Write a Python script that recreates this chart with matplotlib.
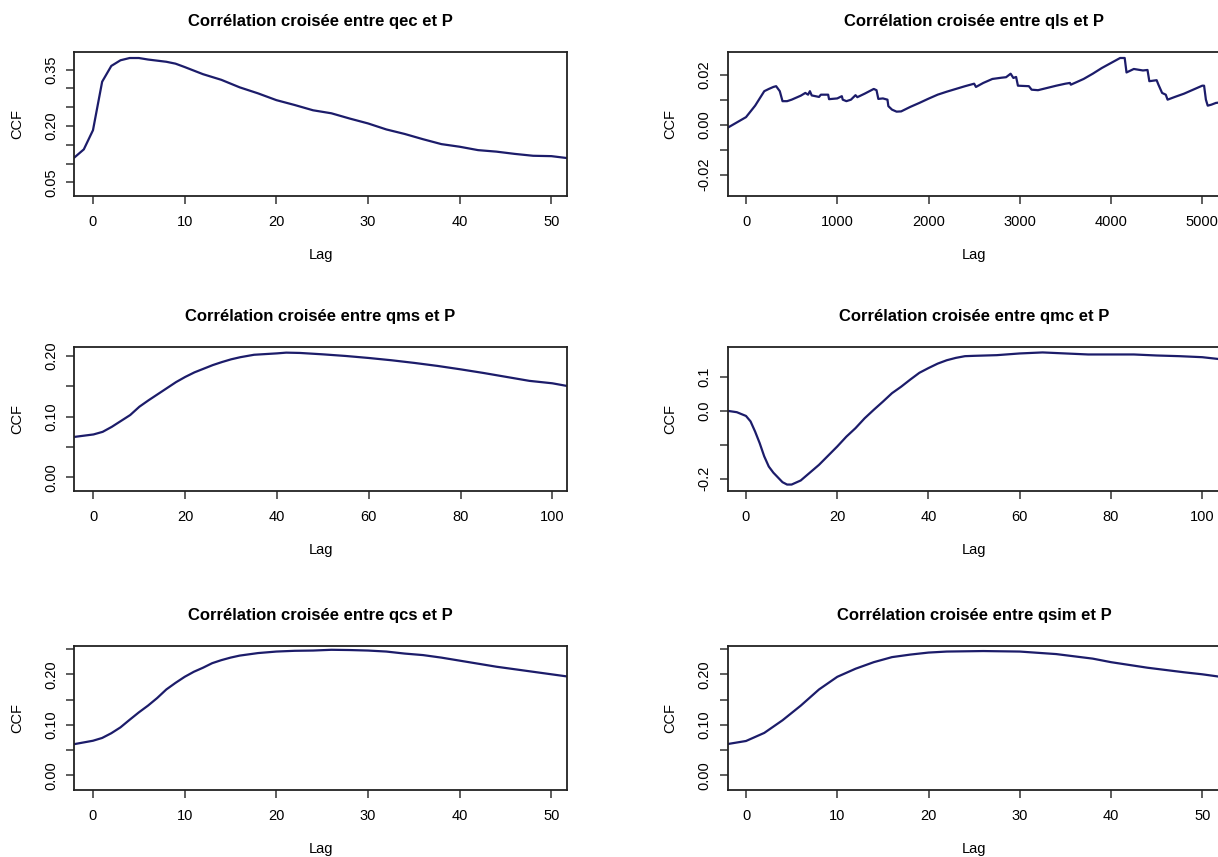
import matplotlib
matplotlib.use("Agg")
import matplotlib.pyplot as plt

plt.rcParams['font.family'] = ['Liberation Sans', 'DejaVu Sans']

# ---- data (lag, ccf) ----
qec_lag = [-2, -1, 0, 1, 2, 3, 4, 5, 6, 7, 8, 9, 10, 12, 14, 16, 18, 20, 22, 24, 26, 28,
           30, 32, 34, 36, 38, 40, 42, 44, 46, 48, 50, 52]
qec_ccf = [0.117, 0.138, 0.189, 0.318, 0.360, 0.375, 0.381, 0.381, 0.377, 0.374, 0.371,
           0.366, 0.357, 0.338, 0.323, 0.303, 0.287, 0.269, 0.256, 0.242, 0.234, 0.220,
           0.207, 0.191, 0.179, 0.165, 0.152, 0.145, 0.136, 0.132, 0.126, 0.121, 0.120, 0.114]

qls_lag = [-204, 0, 100, 200, 250, 300, 330, 370, 400, 450, 500, 600, 650, 680, 700, 720,
           800, 820, 900, 910, 1000, 1050, 1060, 1100, 1150, 1200, 1220, 1300, 1400, 1430,
           1450, 1500, 1550, 1560, 1600, 1650, 1700, 1800, 1900, 2000, 2100, 2200, 2300,
           2400, 2500, 2520, 2600, 2700, 2800, 2850, 2900, 2930, 2960, 2980, 3100, 3130,
           3200, 3300, 3400, 3500, 3550, 3560, 3700, 3800, 3900, 4000, 4100, 4150, 4170,
           4250, 4350, 4400, 4420, 4500, 4520, 4560, 4600, 4620, 4700, 4800, 4900, 5000,
           5020, 5040, 5060, 5100, 5150, 5200]
qls_ccf = [-0.0013, 0.0030, 0.0076, 0.0134, 0.0143, 0.0151, 0.0154, 0.0134, 0.0094,
           0.0094, 0.0100, 0.0116, 0.0127, 0.0120, 0.0134, 0.0117, 0.0111, 0.0120, 0.0120,
           0.0102, 0.0105, 0.0114, 0.0100, 0.0094, 0.0100, 0.0118, 0.0110, 0.0124, 0.0143,
           0.0138, 0.0103, 0.0105, 0.0100, 0.0074, 0.0060, 0.0052, 0.0053, 0.0071, 0.0087,
           0.0104, 0.0120, 0.0132, 0.0143, 0.0154, 0.0164, 0.0151, 0.0167, 0.0183, 0.0188,
           0.0190, 0.0204, 0.0187, 0.0191, 0.0156, 0.0154, 0.0140, 0.0138, 0.0147, 0.0156,
           0.0164, 0.0167, 0.0160, 0.0183, 0.0204, 0.0227, 0.0247, 0.0267, 0.0267, 0.0209,
           0.0223, 0.0217, 0.0219, 0.0174, 0.0178, 0.0160, 0.0127, 0.0120, 0.0100, 0.0111,
           0.0124, 0.0140, 0.0156, 0.0156, 0.0100, 0.0076, 0.0080, 0.0087, 0.0089]

qms_lag = [-4, 0, 2, 4, 6, 8, 10, 12, 14, 16, 18, 20, 22, 24, 26, 28, 30, 32, 35, 40, 42,
           45, 50, 55, 60, 65, 70, 75, 80, 85, 90, 95, 100, 104]
qms_ccf = [0.0668, 0.0707, 0.0750, 0.0833, 0.0930, 0.1027, 0.1164, 0.1270, 0.1370,
           0.1470, 0.1570, 0.1655, 0.1730, 0.1790, 0.1850, 0.1900, 0.1945, 0.1980, 0.2020,
           0.2043, 0.2055, 0.2050, 0.2027, 0.2000, 0.1967, 0.1929, 0.1885, 0.1836, 0.1780,
           0.1720, 0.1655, 0.1590, 0.1550, 0.1495]

qmc_lag = [-4, -2, 0, 1, 2, 3, 4, 5, 6, 8, 9, 10, 12, 14, 16, 18, 20, 22, 24, 26, 28, 30,
           32, 34, 36, 38, 40, 42, 44, 46, 48, 50, 55, 60, 65, 70, 75, 80, 85, 90, 95, 100, 104]
qmc_ccf = [0.000, -0.004, -0.015, -0.031, -0.061, -0.095, -0.134, -0.164, -0.182, -0.210,
           -0.217, -0.217, -0.205, -0.182, -0.159, -0.132, -0.105, -0.076, -0.051, -0.022,
           0.003, 0.027, 0.052, 0.071, 0.092, 0.112, 0.126, 0.139, 0.149, 0.156, 0.161,
           0.162, 0.164, 0.169, 0.172, 0.169, 0.166, 0.166, 0.166, 0.163, 0.161, 0.158, 0.152]

qcs_lag = [-2, 0, 1, 2, 3, 4, 5, 6, 7, 8, 9, 10, 11, 12, 13, 14, 15, 16, 18, 20, 22, 24,
           26, 28, 30, 32, 34, 36, 38, 40, 42, 44, 46, 48, 50, 52]
qcs_ccf = [0.0619, 0.0685, 0.0740, 0.0834, 0.0950, 0.1100, 0.1246, 0.1380, 0.1530,
           0.1700, 0.1830, 0.1950, 0.2050, 0.2130, 0.2220, 0.2280, 0.2330, 0.2370, 0.2420,
           0.2450, 0.2465, 0.2470, 0.2485, 0.2480, 0.2470, 0.2450, 0.2410, 0.2380, 0.2330,
           0.2270, 0.2210, 0.2150, 0.2100, 0.2050, 0.2000, 0.1950]

qsim_lag = [-2, 0, 2, 4, 6, 8, 10, 12, 14, 16, 18, 20, 22, 26, 30, 34, 38, 40, 44, 48, 50, 52]
qsim_ccf = [0.062, 0.068, 0.084, 0.109, 0.138, 0.170, 0.195, 0.211, 0.224, 0.234, 0.239,
            0.243, 0.245, 0.246, 0.245, 0.240, 0.231, 0.224, 0.213, 0.204, 0.200, 0.195]

names = ["qec", "qls", "qms", "qmc", "qcs", "qsim"]
lags = [qec_lag, qls_lag, qms_lag, qmc_lag, qcs_lag, qsim_lag]
ccfs = [qec_ccf, qls_ccf, qms_ccf, qmc_ccf, qcs_ccf, qsim_ccf]

xticks = [[0, 10, 20, 30, 40, 50], [0, 1000, 2000, 3000, 4000, 5000],
          [0, 20, 40, 60, 80, 100], [0, 20, 40, 60, 80, 100],
          [0, 10, 20, 30, 40, 50], [0, 10, 20, 30, 40, 50]]
yticks = [[0.05, 0.10, 0.15, 0.20, 0.25, 0.30, 0.35],
          [-0.02, -0.01, 0.00, 0.01, 0.02],
          [0.00, 0.05, 0.10, 0.15, 0.20],
          [-0.2, -0.1, 0.0, 0.1],
          [0.00, 0.05, 0.10, 0.15, 0.20, 0.25],
          [0.00, 0.05, 0.10, 0.15, 0.20, 0.25]]
ylabels = [["0.05", "", "", "0.20", "", "", "0.35"],
           ["-0.02", "", "0.00", "", "0.02"],
           ["0.00", "", "0.10", "", "0.20"],
           ["-0.2", "", "0.0", "0.1"],
           ["0.00", "", "0.10", "", "0.20", ""],
           ["0.00", "", "0.10", "", "0.20", ""]]

xlims = [(-2.07, 51.7), (-203, 5200), (-4.25, 103.2), (-4.05, 104), (-2.07, 51.7), (-2.03, 52)]
ylims = [(0.014, 0.397), (-0.0286, 0.0291), (-0.0225, 0.2148), (-0.236, 0.188),
         (-0.029, 0.256), (-0.029, 0.256)]

W, H = 1218, 857
fig = plt.figure(figsize=(W / 100, H / 100), dpi=100)

col_left = [74, 727.5]
row_top = [52, 347, 646]
bw, bh = 493, 144
line_col = "#1c1c6a"

for i in range(6):
    r, c = divmod(i, 2)
    ax = fig.add_axes([col_left[c] / W, 1 - (row_top[r] + bh) / H, bw / W, bh / H])
    ax.plot(lags[i], ccfs[i], color=line_col, lw=1.6)
    ax.set_xlim(*xlims[i])
    ax.set_ylim(*ylims[i])
    ax.set_xticks(xticks[i])
    ax.set_yticks(yticks[i])
    ax.set_yticklabels(ylabels[i])
    for s in ax.spines.values():
        s.set_linewidth(1.3)
        s.set_color("#222222")
    ax.tick_params(axis='both', length=5.5, width=1.1, labelsize=10.5, color="#333333")
    ax.tick_params(axis='x', pad=8)
    ax.tick_params(axis='y', pad=6)
    for lab in ax.get_yticklabels():
        lab.set_rotation(90)
        lab.set_va('center')
        lab.set_ha('right')
    ax.set_title(f"Corrélation croisée entre {names[i]} et P", fontsize=12,
                 fontweight='bold', pad=19)
    ax.set_xlabel("Lag", fontsize=10.5)
    ax.set_ylabel("CCF", fontsize=10.5)
    ax.xaxis.set_label_coords(0.5, -59 / bh)
    ax.xaxis.label.set_va('center')
    ax.yaxis.set_label_coords(-57 / bw, 0.5)
    ax.yaxis.label.set_va('center')

fig.savefig("out.png", dpi=100)
